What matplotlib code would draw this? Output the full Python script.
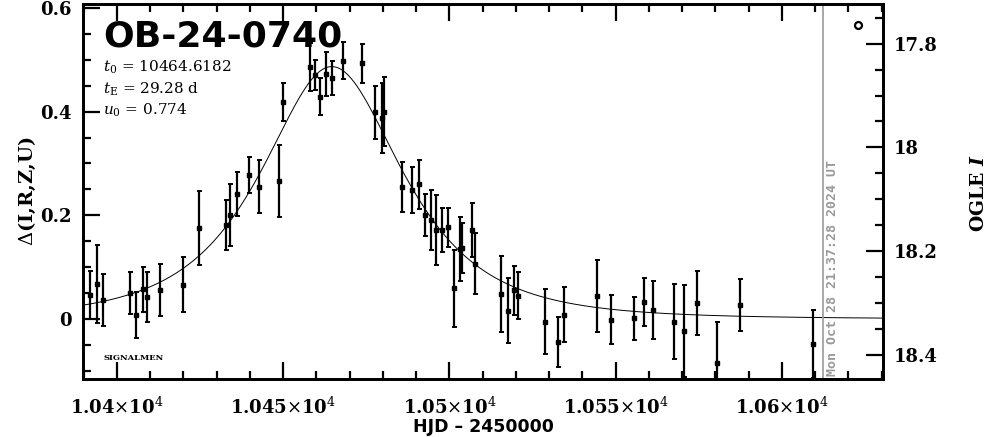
import numpy as np
import matplotlib
matplotlib.use("Agg")
import matplotlib.pyplot as plt
from matplotlib.ticker import MultipleLocator

plt.rcParams["mathtext.fontset"] = "custom"
plt.rcParams["mathtext.rm"] = "DejaVu Serif"
plt.rcParams["mathtext.it"] = "DejaVu Serif:italic"
plt.rcParams["mathtext.bf"] = "DejaVu Serif:italic:bold"

# event parameters (printed on the chart)
event_name = "OB-24-0740"
t0 = 10464.6182
tE = 29.28
u0 = 0.774
base_mag = 18.331

# OGLE photometry: HJD-2450000, delta mag, error
hjd = [10391.8, 10394.0, 10395.9, 10403.9, 10405.8, 10407.8, 10408.9, 10412.8,
       10419.9, 10424.8, 10432.8, 10434.0, 10436.0, 10439.8, 10442.8, 10448.6,
       10449.8, 10458.1, 10459.6, 10461.1, 10462.9, 10464.6, 10468.0, 10473.6,
       10477.6, 10479.6, 10480.4, 10485.8, 10488.6, 10490.9, 10492.7, 10494.4,
       10495.9, 10497.7, 10499.6, 10501.4, 10503.3, 10503.9, 10506.7, 10507.8,
       10515.5, 10517.5, 10519.5, 10520.5, 10528.7, 10532.5, 10534.5, 10544.5,
       10548.5, 10555.6, 10558.6, 10561.3, 10567.4, 10570.4, 10574.5, 10580.5,
       10587.5, 10609.4]
delta = [0.046, 0.068, 0.037, 0.050, 0.008, 0.057, 0.043, 0.056,
         0.066, 0.175, 0.181, 0.201, 0.241, 0.278, 0.255, 0.266,
         0.419, 0.486, 0.471, 0.429, 0.473, 0.465, 0.498, 0.493,
         0.399, 0.388, 0.400, 0.254, 0.249, 0.260, 0.201, 0.191,
         0.172, 0.172, 0.177, 0.059, 0.135, 0.137, 0.172, 0.107,
         0.048, 0.016, 0.055, 0.045, -0.005, -0.045, 0.008, 0.044,
         -0.001, 0.001, 0.033, 0.017, -0.005, -0.023, 0.031, -0.084,
         0.027, -0.048]
err = [0.046, 0.075, 0.050, 0.041, 0.045, 0.044, 0.048, 0.051,
       0.053, 0.071, 0.048, 0.060, 0.043, 0.035, 0.051, 0.069,
       0.037, 0.047, 0.029, 0.035, 0.042, 0.032, 0.036, 0.037,
       0.051, 0.068, 0.067, 0.048, 0.044, 0.047, 0.041, 0.058,
       0.068, 0.042, 0.038, 0.075, 0.061, 0.048, 0.052, 0.059,
       0.073, 0.063, 0.047, 0.045, 0.063, 0.048, 0.053, 0.070,
       0.048, 0.041, 0.046, 0.056, 0.072, 0.089, 0.061, 0.079,
       0.051, 0.066]

xticks = [10400, 10450, 10500, 10550, 10600]
xticklabels = [r"1.04$\times$10$^{4}$", r"1.045$\times$10$^{4}$", r"1.05$\times$10$^{4}$",
               r"1.055$\times$10$^{4}$", r"1.06$\times$10$^{4}$"]

now_hjd = 10612.3
now_label = "Mon Oct 28 21:37:28 2024 UT"
marker_hjd, marker_delta = 10622.9, 0.567

xlim = (10389.8, 10630.4)
ylim = (-0.1157, 0.6075)

fig = plt.figure(figsize=(9.86, 4.37), dpi=100)
ax = fig.add_axes([0.0842, 0.1327, 0.8114, 0.8581])

# Paczynski model
tt = np.linspace(xlim[0], xlim[1], 800)
u = np.sqrt(u0 ** 2 + ((tt - t0) / tE) ** 2)
amp = (u ** 2 + 2) / (u * np.sqrt(u ** 2 + 4))
ax.plot(tt, 2.5 * np.log10(amp), color="black", lw=0.7)

ax.errorbar(hjd, delta, yerr=err, fmt="s", color="black", ms=2.2,
            elinewidth=1.6, capsize=1.8, capthick=1.4)

ax.axvline(now_hjd, color="#999999", lw=1.2)
ax.text(now_hjd + 1.0, -0.11, now_label, rotation=90, color="#999999",
        fontsize=9.5, fontweight="bold", family="DejaVu Sans Mono",
        ha="left", va="bottom")
ax.plot([marker_hjd], [marker_delta], "o", mfc="none", mec="black", ms=5, mew=1.6)

ax.set_xlim(*xlim)
ax.set_ylim(*ylim)

tick_font = dict(family="DejaVu Serif", weight="bold", size=13)
ax.set_xticks(xticks)
ax.set_xticklabels(xticklabels, fontdict=tick_font)
ax.xaxis.set_minor_locator(MultipleLocator(10))
ax.set_yticks([0, 0.2, 0.4, 0.6])
ax.set_yticklabels(["0", "0.2", "0.4", "0.6"], fontdict=tick_font)
ax.yaxis.set_minor_locator(MultipleLocator(0.05))
ax.tick_params(which="both", direction="in", top=True, right=False, width=1.6)
ax.tick_params(which="major", length=12, pad=8)
ax.tick_params(axis="x", which="major", pad=13)
ax.tick_params(which="minor", length=6)
for s in ax.spines.values():
    s.set_linewidth(2.0)

ax.set_xlabel("HJD \u2013 2450000", family="DejaVu Sans", weight="bold", size=12.5)
ax.xaxis.set_label_coords(0.5, -0.128)
ax.xaxis.label.set_va("center")
ax.set_ylabel(r"$\Delta$(I,R,Z,U)", family="DejaVu Serif", weight="bold", size=14, labelpad=2)

ax2 = ax.twinx()
ax2.set_ylim(base_mag - ylim[0], base_mag - ylim[1])
ax2.set_yticks([17.8, 18.0, 18.2, 18.4])
ax2.set_yticklabels(["17.8", "18", "18.2", "18.4"], fontdict=tick_font)
ax2.yaxis.set_minor_locator(MultipleLocator(0.05))
ax2.tick_params(which="both", direction="in", width=1.6)
ax2.tick_params(which="major", length=12, pad=8)
ax2.tick_params(which="minor", length=6)
ax2.set_ylabel(r"OGLE $\mathbf{I}$", family="DejaVu Serif", weight="bold", size=13.5,
               rotation=90)
ax2.yaxis.set_label_coords(1.1195, 0.495)
ax2.yaxis.label.set_va("center")
ax2.yaxis.label.set_ha("center")
for s in ax2.spines.values():
    s.set_linewidth(2.0)

ax.text(0.025, 0.958, event_name, transform=ax.transAxes, family="DejaVu Sans",
        weight="bold", size=26, ha="left", va="top")
params = [r"$t_0$ = %.4f" % t0, r"$t_{\rm E}$ = %.2f d" % tE, r"$u_0$ = %.3f" % u0]
for i, line in enumerate(params):
    ax.text(0.025, 0.83 - i * 0.057, line, transform=ax.transAxes,
            family="DejaVu Serif", size=11, ha="left", va="center")
ax.text(0.025, 0.055, "SIGNALMEN", transform=ax.transAxes, family="DejaVu Serif",
        weight="bold", size=6, ha="left", va="center")

fig.savefig("out.png", dpi=100)
